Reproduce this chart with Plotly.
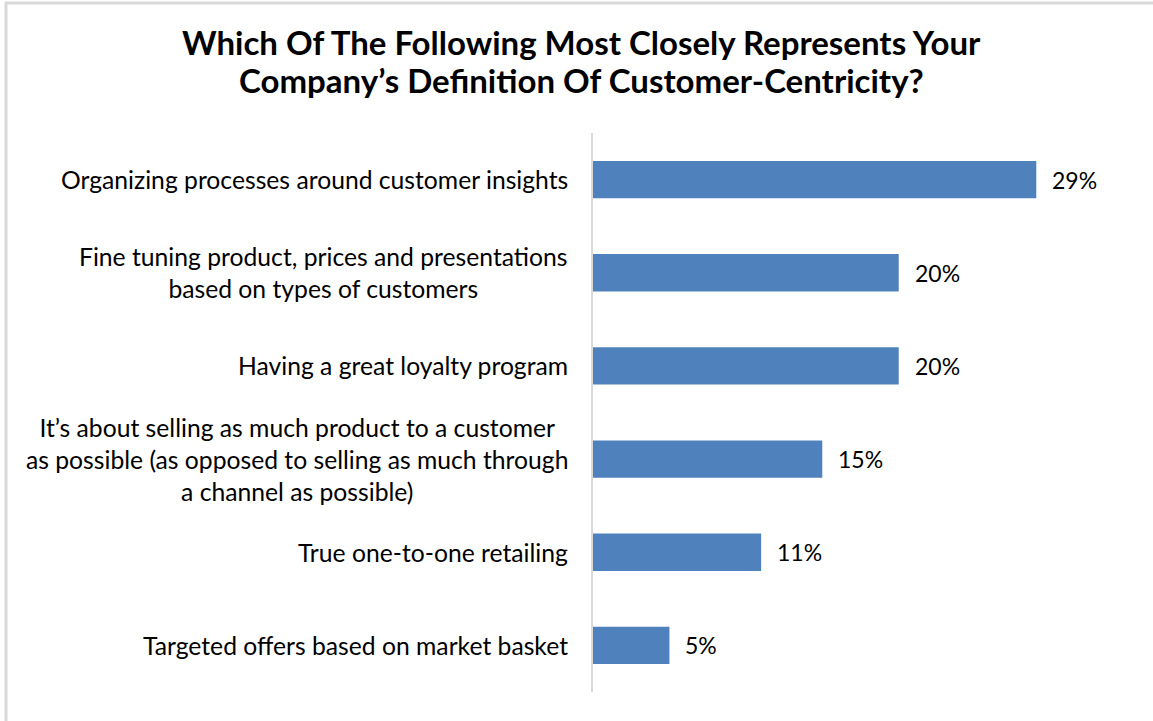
import plotly.graph_objects as go

# Survey answers, top to bottom as drawn
categories = [
    "Organizing processes around customer insights",
    "Fine tuning product, prices and presentations<br>based on types of customers",
    "Having a great loyalty program",
    "It’s about selling as much product to a customer<br>as possible (as opposed to selling as much through<br>a channel as possible)",
    "True one-to-one retailing",
    "Targeted offers based on market basket",
]
values = [29, 20, 20, 15, 11, 5]
value_labels = ["29%", "20%", "20%", "15%", "11%", "5%"]
title_lines = [
    "Which Of The Following Most Closely Represents Your",
    "Company’s Definition Of Customer-Centricity?",
]

BAR_COLOR = "#4f81bd"
GRID_GRAY = "#d9d9d9"
FONT = "Lato"

W, H = 1153, 721
M_L, M_R, M_T, M_B = 593, 25, 133, 29
plot_w = W - M_L - M_R
plot_h = H - M_T - M_B


def px_to_paper_y(py):
    return (H - M_B - py) / plot_h


def px_to_paper_x(px):
    return (px - M_L) / plot_w


fig = go.Figure(
    go.Bar(
        x=values,
        y=categories,
        orientation="h",
        marker=dict(color=BAR_COLOR, line=dict(width=0)),
        hoverinfo="skip",
    )
)

annotations = []
# Category labels: right-aligned block, lines centred within it
for cat in categories:
    annotations.append(dict(
        x=0, y=cat, xref="x", yref="y", text=cat, showarrow=False,
        xanchor="right", yanchor="middle", align="center", xshift=-23,
        font=dict(family=FONT, size=24.7, color="#000000"),
    ))
# Value labels just past the bar ends
for cat, v, lab in zip(categories, values, value_labels):
    annotations.append(dict(
        x=v, y=cat, xref="x", yref="y", text=lab, showarrow=False,
        xanchor="left", yanchor="middle", xshift=14,
        font=dict(family=FONT, size=23, color="#000000"),
    ))

# Two-line bold title
for line, cy in zip(title_lines, [42, 80]):
    annotations.append(dict(
        x=px_to_paper_x(581), y=px_to_paper_y(cy), xref="paper", yref="paper",
        text=f"<b>{line}</b>", showarrow=False,
        xanchor="center", yanchor="middle",
        font=dict(family=FONT, size=33, color="#000000"),
    ))

fig.update_layout(
    width=W, height=H,
    margin=dict(l=M_L, r=M_R, t=M_T, b=M_B, autoexpand=False),
    paper_bgcolor="white", plot_bgcolor="white",
    showlegend=False,
    bargap=0.6,
    xaxis=dict(range=[0, 35], showgrid=False, zeroline=False, showticklabels=False,
               showline=False, fixedrange=True),
    yaxis=dict(autorange="reversed", showticklabels=False, showgrid=False,
               zeroline=False, showline=True, linecolor=GRID_GRAY, linewidth=2,
               fixedrange=True),
    annotations=annotations,
    shapes=[
        # light frame around the chart
        dict(type="rect", xref="paper", yref="paper",
             x0=px_to_paper_x(6), x1=px_to_paper_x(W + 20),
             y0=px_to_paper_y(H + 20), y1=px_to_paper_y(3),
             line=dict(color=GRID_GRAY, width=3), layer="below"),
    ],
)

fig.write_html("out.html", config={"displayModeBar": False})
